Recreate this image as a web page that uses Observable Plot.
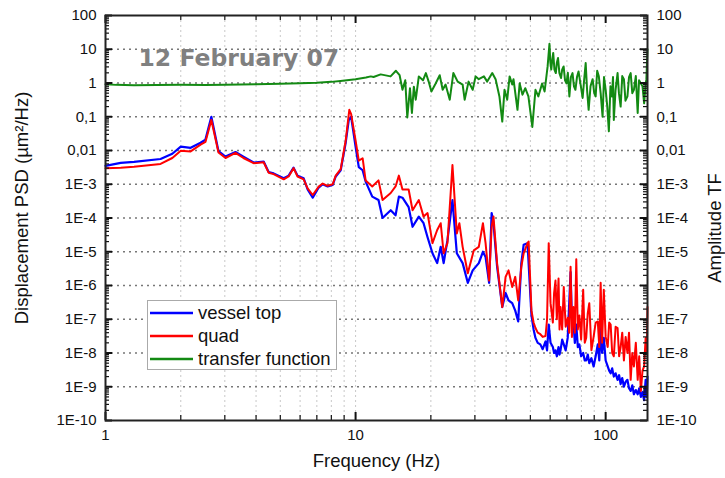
<!DOCTYPE html>
<html>
<head>
<meta charset="utf-8">
<script src="https://cdn.jsdelivr.net/npm/d3@7"></script>
<script src="https://cdn.jsdelivr.net/npm/@observablehq/plot@0.6"></script>
<style>
  html, body { margin: 0; padding: 0; background: #fff; }
  #wrap { position: relative; width: 725px; height: 478px; }
  #legend { position: absolute; left: 147px; top: 300px; width: 190px; height: 70px;
    border: 1.5px solid #aaa; background: #fff; font-family: "Liberation Sans", Arial, sans-serif;
    font-size: 18.5px; color: #111; box-sizing: border-box; }
  #legend .row { position: absolute; left: 2px; height: 22px; display: flex; align-items: center; }
  #legend .row span { margin-left: 5px; }
</style>
</head>
<body>
<div id="wrap"><div id="legend"></div></div>
<script>
// ---------- data ----------
const vesselFreq = [1.0,1.15,1.3,1.66,1.85,2.0,2.19,2.4,2.51,2.65,2.83,3.02,3.31,3.56,3.91,4.29,4.49,4.70,5.16,5.40,5.65,5.86,6.2,6.43,6.74,7.12,7.39,7.73,8.1,8.33,8.72,9.13,9.39,9.6,10.0,10.3,10.67,10.97,11.66,12.35,12.82,13.82,14.45,14.9,15.4,16.3,16.9,17.9,18.7,19.4,20.3,21.2,21.9,22.5,23.3,24.4,25.4,26.8,28.1,29.4,31.1,32.3,33.1,34.2,35.0,35.6,36.8,38.6,39.8,40.9,42.3,43.5,44.7,46.0,47.0,48.7,50.5,51.5,52.4,53.5,54.8,56.0,57.5,58.3,59.2,60.2,61.5,62.2,63.0,63.8,64.8,65.4,66.0,67.0,68.0,69.2,70.5,71.5,72.4,73.3,74.3,75.3,76.3,77.4,78.5,79.8,81.3,82.5,83.6,84.8,86.0,87.7,89.5,91.2,93.0,94.3,95.5,96.8,98.3,100.0,101.9,103.3,104.7,106.2,107.8,109.6,111.6,113.2,114.8,116.5,118.3,120.2,122.2,124.0,125.9,127.8,129.7,132.0,134.3,136.2,138.3,140.4,142.5,144.5,146,147];
const vesselPSD = [3.5e-3,4.3e-3,4.6e-3,5.6e-3,8e-3,0.013,0.012,0.017,0.021,0.1,0.0095,0.0066,0.009,0.0066,0.0044,0.0047,0.0023,0.0021,0.0015,0.0018,0.0031,0.0018,0.0015,7e-4,4.0e-4,8e-4,1e-3,8.6e-4,9.5e-4,1.7e-3,2.6e-3,0.017,0.08,0.1,0.013,3.2e-3,2.6e-3,1.2e-3,4.3e-4,3.4e-4,1e-4,1.7e-4,1.2e-4,4.3e-4,4e-4,2.1e-4,5.5e-5,1.1e-4,7e-5,2.7e-5,9e-6,4.6e-6,1.4e-5,4.6e-6,2.2e-5,3.4e-4,9e-6,4.6e-6,1.2e-6,2.8e-6,4.6e-6,1e-5,7e-6,1.2e-6,1.4e-4,7e-5,3.6e-6,2.3e-7,6e-7,3.6e-7,3e-7,1.8e-7,8.6e-8,4.6e-6,1.6e-5,1.8e-5,1.3e-7,5e-8,2.8e-8,2e-8,1.8e-8,1.3e-8,2.2e-8,1.2e-8,7e-8,2e-8,1.5e-8,1e-8,1.2e-8,8e-9,1.5e-8,9e-9,1.2e-8,2.5e-8,1.8e-8,1.2e-8,2.8e-8,3e-7,2.5e-6,1e-7,8.6e-8,2e-8,7e-8,1.5e-8,1.8e-8,8e-9,1e-8,6e-9,6e-9,9e-9,5e-9,7e-9,4e-9,8e-9,1.8e-8,6e-9,5.5e-8,1e-8,2.8e-8,6e-9,4e-9,3e-9,2.5e-9,3.5e-9,2e-9,2.5e-9,1.6e-9,2.2e-9,1.2e-9,1.8e-9,1e-9,1.4e-9,1.6e-9,9e-10,7.5e-10,1.1e-9,6e-10,8e-10,6e-10,9e-10,5e-10,7e-10,4e-10,1.6e-9,5e-10,2e-9];

const quadFreq = [1.0,1.15,1.3,1.66,1.85,2.0,2.19,2.4,2.51,2.65,2.83,3.02,3.31,3.56,3.91,4.29,4.49,4.70,5.16,5.40,5.65,5.86,6.2,6.43,6.74,7.12,7.39,7.73,8.1,8.33,8.72,9.13,9.44,9.6,10.0,10.3,10.67,10.97,11.66,12.35,12.82,13.82,14.45,14.9,15.4,16.3,16.9,17.9,18.7,19.4,20.3,21.2,21.9,22.5,23.3,24.4,25.4,26.0,26.8,28.1,29.7,31.1,32.3,33.1,34.2,35.0,35.6,36.8,38.6,39.8,40.9,42.3,43.5,44.7,46.0,47.0,48.7,49.2,50.5,51.5,52.4,53.5,54.8,56.0,57.5,58.3,59.2,60.2,61.5,62.2,63.0,63.8,64.8,65.4,66.0,67.0,68.0,69.2,70.5,71.5,72.4,73.3,74.3,75.3,76.3,77.4,78.5,79.8,81.3,82.5,83.6,84.8,86.0,87.7,89.5,91.2,93.0,94.3,95.5,96.8,98.3,100.0,101.9,103.3,104.7,106.2,107.8,109.6,111.6,113.2,114.8,116.5,118.3,120.2,122.2,124.0,125.9,127.8,129.7,132.0,134.3,136.2,138.3,140.4,142.5,144.5,146,147];
const quadPSD = [3.0e-3,3.1e-3,3.3e-3,4.0e-3,6e-3,0.0098,0.0094,0.015,0.018,0.08,0.0087,0.006,0.0085,0.006,0.0042,0.0045,0.0022,0.002,0.0014,0.0017,0.003,0.0017,0.0014,7.5e-4,4.8e-4,8.5e-4,1.05e-3,9e-4,1e-3,1.8e-3,2.8e-3,0.02,0.16,0.12,0.02,5e-3,5.9e-3,1.3e-3,8.6e-4,1.3e-3,3.4e-4,5.5e-4,8.6e-4,1.8e-3,7e-4,7e-4,1.7e-4,3.4e-4,1.1e-4,1.4e-4,1.8e-5,4.4e-5,7e-5,9e-6,1.8e-5,3.7e-3,3.5e-5,7e-5,1.4e-5,2.3e-6,1.1e-5,1.4e-5,7e-5,1.8e-5,1.4e-6,5.5e-5,1.1e-4,4.6e-6,2.3e-7,1.8e-6,2.8e-6,9e-7,1.8e-6,3.6e-7,3.6e-6,9e-6,1.8e-5,2e-5,1.8e-7,8e-8,5.5e-8,4e-8,3.6e-8,3e-8,3.2e-8,1e-7,1.8e-5,3e-7,8e-8,6e-7,1.4e-6,1e-7,1.6e-6,5e-8,2.3e-7,5e-8,9e-7,6e-8,1.1e-7,4e-8,3.6e-6,3e-8,2.3e-7,4e-8,6e-6,5e-8,1.3e-7,2.5e-8,7.5e-7,2e-8,2.8e-8,1.5e-7,3e-7,1.2e-8,3e-8,8e-8,8.6e-8,1.5e-8,1.2e-6,2e-8,7.5e-7,3e-8,1.5e-8,8e-8,7e-8,1e-8,8e-9,6e-8,5.5e-8,8e-9,1.5e-8,4e-8,6e-9,3e-8,1e-8,4e-8,1.6e-9,1e-8,4e-9,2e-8,1.6e-9,8e-9,7.5e-10,3e-9,4e-9,2.8e-8,1e-8,2.3e-7];

const tfFreq = [1.0,1.1,1.3,1.6,2.0,2.5,3.0,4.0,5.0,6.0,7.0,8.0,8.7,10.0,11.0,11.5,11.8,12.6,13.8,14.5,15.0,15.4,15.8,16.1,16.5,16.8,17.1,17.4,17.9,18.6,19.1,19.6,20.1,20.9,21.7,22.3,22.9,23.8,24.6,25.6,26.8,27.3,28.3,29.4,30.2,31.1,32.6,33.6,35.2,36.3,37.6,38.6,39.4,40.4,41.3,42.3,42.8,44.4,45.3,46.5,47.7,49.1,50.9,52.4,53.8,55.7,57.0,58.6,59.6,60.1,60.6,61.2,61.7,62.4,63.2,63.8,64.5,65.3,66.3,67.0,67.9,68.8,69.7,70.6,71.6,72.6,73.7,74.7,75.7,76.8,77.9,79.4,80.9,82.0,83.2,84.3,85.5,87.0,88.7,90.0,91.2,92.5,93.9,95.5,97.2,98.5,100,101.5,103,104.5,105.9,107,107.8,109.5,111.6,113,114.8,116.5,118.3,120,122.2,124,125.9,127.8,129.7,132,134.3,136,138.3,140.4,142.5,144.5,145.5,147];
const tfAmp = [0.92,0.88,0.86,0.87,0.88,0.87,0.88,0.92,0.95,0.98,1.02,1.08,1.15,1.3,1.45,1.57,1.5,1.8,1.57,2.3,1.7,0.63,1.2,0.095,0.7,0.13,0.78,0.32,1.57,1.2,1.97,1.1,0.56,0.97,1.7,0.63,0.9,0.32,1.97,1.1,0.9,0.32,1.1,0.63,1.57,1.3,1.57,1.1,1.97,1.3,0.4,0.072,0.63,0.32,1.57,0.9,1.3,0.16,0.97,0.45,0.7,0.4,0.05,0.63,0.4,0.97,0.56,3.1,14.5,4,2.5,5,7.8,2.5,1.97,4,5.5,2,1.4,2.5,3.1,1.2,0.97,2,0.4,1.5,1.97,0.8,0.63,1.5,2.2,0.9,0.36,1.2,3.9,0.6,0.16,0.8,1.3,0.5,0.4,2.3,1.57,0.5,0.1,1.5,0.63,0.2,0.037,0.8,0.4,1.5,0.08,0.6,1.97,0.5,0.2,1.6,1.3,0.3,0.4,1.5,1.97,0.5,0.63,1.6,0.13,1.2,0.97,0.8,0.25,0.9,1.3,10];

const yTickValues = [1e-10,1e-9,1e-8,1e-7,1e-6,1e-5,1e-4,1e-3,1e-2,1e-1,1,10,100];
const yTickLabels = ["1E-10","1E-9","1E-8","1E-7","1E-6","1E-5","1E-4","1E-3","0,01","0,1","1","10","100"];
const xTickValues = [1,10,100];
const xTickLabels = ["1","10","100"];
const minorMultipliers = [2,3,4,5,6,7,8,9];
const seriesNames = ["vessel top","quad","transfer function"];
const seriesColors = ["#0000ff","#ff0000","#138a13"];
const titleText = "12 February 07";

// ---------- derived tables ----------
const toRows = (fs, vs) => fs.map((f, i) => ({f, v: vs[i]}));
const vessel = toRows(vesselFreq, vesselPSD);
const quad = toRows(quadFreq, quadPSD);
const tf = toRows(tfFreq, tfAmp);
const yMinor = yTickValues.slice(0, -1).flatMap(d => minorMultipliers.map(m => d * m));
const xMinor = [1, 10, 100].flatMap(d => minorMultipliers.map(m => d * m)).filter(d => d < 147);
const xGrid = xMinor.concat([10, 100]);

const W = 725, H = 478, mL = 105, mR = 78, mT = 15, mB = 58;
const pw = W - mL - mR, ph = H - mT - mB;
const font = "Liberation Sans, Arial, sans-serif";
const fmtY = d => yTickLabels[yTickValues.indexOf(d)];
const fmtX = d => xTickLabels[xTickValues.indexOf(d)];

const chart = Plot.plot({
  width: W, height: H,
  marginLeft: mL, marginRight: mR, marginTop: mT, marginBottom: mB,
  style: {fontFamily: font, fontSize: "15px", background: "#fff", color: "#111"},
  x: {type: "log", domain: [1, 147]},
  y: {type: "log", domain: [1e-10, 100]},
  marks: [
    Plot.ruleX(xGrid, {stroke: "#c8c8c8", strokeDasharray: "2,3", strokeWidth: 1}),
    Plot.ruleY(yTickValues.slice(1, -1), {stroke: "#777", strokeDasharray: "2,4", strokeWidth: 1.3}),
    Plot.text([titleText], {frameAnchor: "top-left", dx: 33, dy: 34, textAnchor: "start",
      fontSize: 23.5, fontWeight: "bold", fill: "#808080", fontFamily: "DejaVu Sans"}),
    Plot.line(tf, {x: "f", y: "v", stroke: seriesColors[2], strokeWidth: 2}),
    Plot.line(vessel, {x: "f", y: "v", stroke: seriesColors[0], strokeWidth: 2.2}),
    Plot.line(quad, {x: "f", y: "v", stroke: seriesColors[1], strokeWidth: 2}),
    // inward ticks: left / right
    Plot.tickY(yTickValues, {insetRight: pw - 7, stroke: "#111", strokeWidth: 2}),
    Plot.tickY(yMinor, {insetRight: pw - 4, stroke: "#111", strokeWidth: 1.2}),
    Plot.tickY(yTickValues, {insetLeft: pw - 7, stroke: "#111", strokeWidth: 2}),
    Plot.tickY(yMinor, {insetLeft: pw - 4, stroke: "#111", strokeWidth: 1.2}),
    // inward ticks: bottom / top
    Plot.tickX(xTickValues, {insetTop: ph - 8, stroke: "#111", strokeWidth: 2}),
    Plot.tickX(xMinor, {insetTop: ph - 5, stroke: "#111", strokeWidth: 1.2}),
    Plot.tickX(xTickValues, {insetBottom: ph - 8, stroke: "#111", strokeWidth: 2}),
    Plot.tickX(xMinor, {insetBottom: ph - 5, stroke: "#111", strokeWidth: 1.2}),
    Plot.frame({stroke: "#222", strokeWidth: 2}),
    Plot.axisY(yTickValues, {anchor: "left", tickSize: 0, tickPadding: 9, tickFormat: fmtY, label: null, fontSize: 15}),
    Plot.axisY(yTickValues, {anchor: "right", tickSize: 0, tickPadding: 9, tickFormat: fmtY, label: null, fontSize: 15}),
    Plot.axisX(xTickValues, {anchor: "bottom", tickSize: 0, tickPadding: 9, tickFormat: fmtX, label: null, fontSize: 15}),
    Plot.text(["Displacement PSD (µm²/Hz)"], {frameAnchor: "left", textAnchor: "middle", dx: -83, dy: -10, rotate: -90, fontSize: 18.5, fill: "#111"}),
    Plot.text(["Amplitude TF"], {frameAnchor: "right", textAnchor: "middle", dx: 68, dy: 10, rotate: -90, fontSize: 18.5, fill: "#111"}),
    Plot.text(["Frequency (Hz)"], {frameAnchor: "bottom", textAnchor: "middle", dy: 46, fontSize: 18.5, fill: "#111"})
  ]
});
document.getElementById("wrap").prepend(chart);

// legend
const legend = document.getElementById("legend");
seriesNames.forEach((name, i) => {
  const row = document.createElement("div");
  row.className = "row";
  row.style.top = (1 + i * 23) + "px";
  row.innerHTML = `<svg width="43" height="6"><line x1="0" y1="3" x2="43" y2="3" stroke="${seriesColors[i]}" stroke-width="2.5"/></svg><span>${name}</span>`;
  legend.appendChild(row);
});
</script>
</body>
</html>
